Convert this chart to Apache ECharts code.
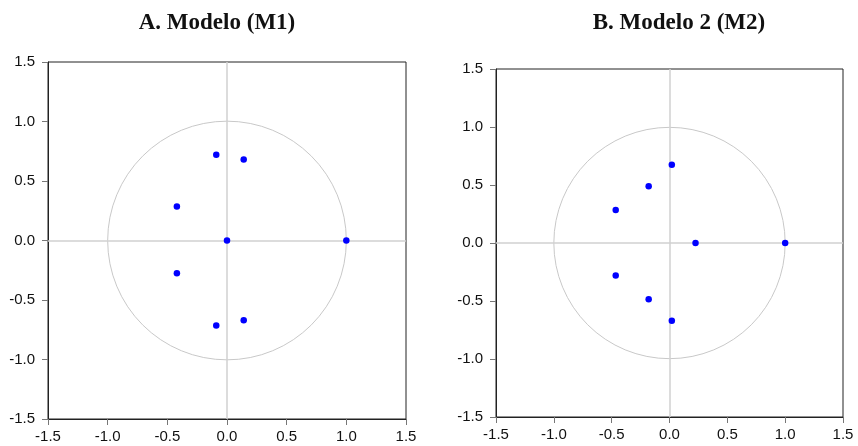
<!DOCTYPE html>
<html>
<head>
<meta charset="utf-8">
<script src="https://cdn.jsdelivr.net/npm/echarts@6/dist/echarts.min.js"></script>
<style>
  html, body { margin: 0; padding: 0; background: #fff; }
  #container { width: 858px; height: 446px; }
</style>
</head>
<body>
<div id="container"></div>
<script>
// raíces inversas del polinomio característico
var m1Real = [-0.09, 0.14, -0.42, 0.0, 1.0, -0.42, -0.09, 0.14];
var m1Imag = [0.72, 0.68, 0.285, 0.0, 0.0, -0.275, -0.715, -0.67];
var m2Real = [0.02, -0.18, -0.465, 0.225, 1.0, -0.465, -0.18, 0.02];
var m2Imag = [0.675, 0.49, 0.285, 0.0, 0.0, -0.28, -0.485, -0.67];
var titles = ['A. Modelo (M1)', 'B. Modelo 2 (M2)'];
var unitCircle = [[0, 0, 1]]; // centro x, centro y, radio

function pairs(re, im) {
  return re.map(function (v, i) { return [v, im[i]]; });
}

var myChart = echarts.init(document.getElementById('container'));

var grids = [
  { left: 48, top: 62, width: 358, height: 357 },
  { left: 496, top: 69, width: 347, height: 348 }
];
var titleCenters = [212, 674];

function axis(type, idx) {
  return {
    type: 'value',
    gridIndex: idx,
    min: -1.5,
    max: 1.5,
    interval: 0.5,
    axisLine: { show: true, onZero: false, lineStyle: { color: '#222', width: 1 } },
    axisTick: { show: true, length: 6, lineStyle: { color: '#777' } },
    axisLabel: {
      color: '#111',
      fontFamily: 'Liberation Sans, Arial, sans-serif',
      fontSize: 15,
      margin: type === 'x' ? 10 : 13,
      formatter: function (v) { return v.toFixed(1); }
    },
    splitLine: { show: false }
  };
}

function circleSeries(idx) {
  return {
    type: 'custom',
    xAxisIndex: idx,
    yAxisIndex: idx,
    silent: true,
    z: 1,
    data: unitCircle,
    renderItem: function (params, api) {
      var c = api.coord([api.value(0), api.value(1)]);
      var s = api.size([api.value(2), api.value(2)]);
      return {
        type: 'circle',
        shape: { cx: c[0], cy: c[1], r: s[0] },
        style: { fill: 'none', stroke: '#c8c8c8', lineWidth: 1 }
      };
    }
  };
}

function zeroLines(idx) {
  return {
    type: 'line',
    xAxisIndex: idx,
    yAxisIndex: idx,
    data: [],
    silent: true,
    markLine: {
      silent: true,
      symbol: 'none',
      label: { show: false },
      lineStyle: { color: '#d0d0d0', type: 'solid', width: 1.5 },
      data: [{ xAxis: 0 }, { yAxis: 0 }]
    }
  };
}

function rootSeries(idx, re, im) {
  return {
    type: 'scatter',
    xAxisIndex: idx,
    yAxisIndex: idx,
    symbolSize: 6.5,
    z: 5,
    itemStyle: { color: '#0000ff', opacity: 1 },
    data: pairs(re, im)
  };
}

var options = {
  animation: false,
  title: titles.map(function (t, i) {
    return {
      text: t,
      left: titleCenters[i],
      textAlign: 'center',
      top: 7,
      textStyle: {
        fontFamily: 'Liberation Serif, DejaVu Serif, serif',
        fontWeight: 'bold',
        fontSize: 23,
        color: '#111'
      }
    };
  }),
  grid: grids.map(function (g) {
    return Object.assign({ show: true, borderColor: '#222', borderWidth: 1, containLabel: false }, g);
  }),
  xAxis: [axis('x', 0), axis('x', 1)],
  yAxis: [axis('y', 0), axis('y', 1)],
  series: [
    zeroLines(0), circleSeries(0), rootSeries(0, m1Real, m1Imag),
    zeroLines(1), circleSeries(1), rootSeries(1, m2Real, m2Imag)
  ]
};

myChart.setOption(options);
</script>
</body>
</html>
